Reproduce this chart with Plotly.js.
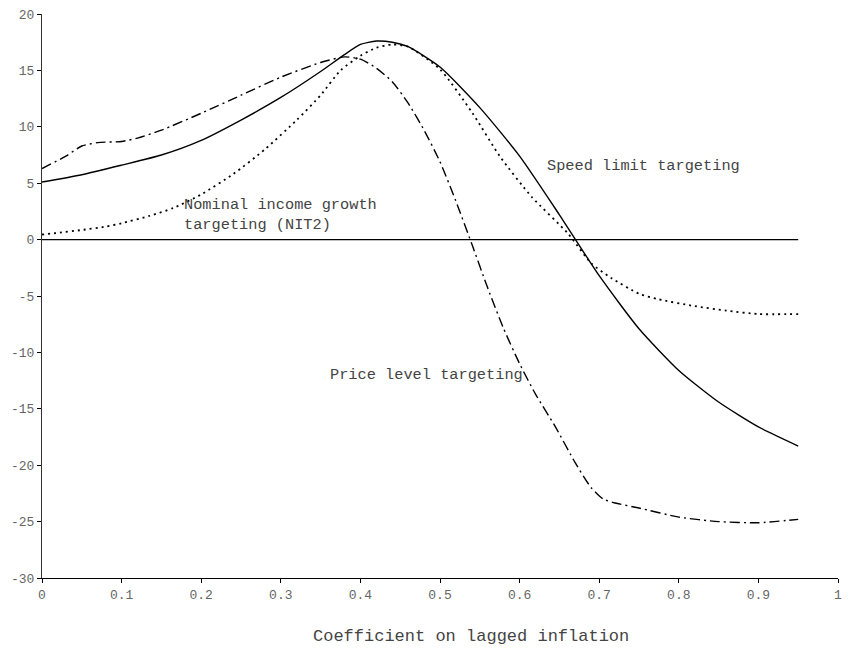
<!DOCTYPE html>
<html>
<head>
<meta charset="utf-8">
<script src="https://cdn.plot.ly/plotly-3.0.1.min.js"></script>
<style>html,body{margin:0;padding:0;background:#fff;}#chart{width:849px;height:655px;}</style>
</head>
<body>
<div id="chart"></div>
<script>
// Speed limit targeting (solid)
var speedX = [0, 0.05, 0.1, 0.15, 0.2, 0.25, 0.3, 0.35, 0.38, 0.4, 0.42, 0.44, 0.46, 0.5, 0.55, 0.6, 0.65, 0.7, 0.75, 0.8, 0.85, 0.9, 0.95];
var speedY = [5.1, 5.75, 6.6, 7.5, 8.8, 10.6, 12.6, 14.9, 16.4, 17.3, 17.6, 17.5, 17.1, 15.3, 11.7, 7.4, 2.2, -3.2, -7.9, -11.6, -14.4, -16.6, -18.3];

// Price level targeting (dash-dot)
var priceX = [0, 0.03, 0.05, 0.07, 0.1, 0.12, 0.15, 0.2, 0.25, 0.3, 0.35, 0.38, 0.4, 0.42, 0.44, 0.46, 0.48, 0.5, 0.52, 0.54, 0.56, 0.58, 0.6, 0.62, 0.645, 0.67, 0.69, 0.705, 0.72, 0.75, 0.8, 0.85, 0.9, 0.95];
var priceY = [6.3, 7.4, 8.3, 8.6, 8.7, 9.0, 9.7, 11.2, 12.8, 14.4, 15.7, 16.2, 16.0, 15.2, 14.0, 12.1, 9.7, 6.9, 3.4, -0.4, -4.3, -7.9, -11.0, -13.7, -16.6, -19.8, -22.0, -23.0, -23.35, -23.8, -24.6, -25.0, -25.1, -24.8];

// Nominal income growth targeting (NIT2) (dotted)
var nitX = [0, 0.02, 0.05, 0.08, 0.1, 0.135, 0.165, 0.2, 0.24, 0.28, 0.32, 0.35, 0.375, 0.4, 0.42, 0.44, 0.46, 0.5, 0.54, 0.575, 0.615, 0.66, 0.69, 0.715, 0.75, 0.775, 0.82, 0.86, 0.9, 0.95];
var nitY = [0.45, 0.6, 0.85, 1.15, 1.45, 2.1, 2.8, 4.0, 5.8, 8.0, 10.6, 12.8, 15.0, 16.3, 17.0, 17.3, 17.1, 15.1, 11.3, 7.4, 3.8, 0.6, -2.1, -3.4, -4.8, -5.3, -5.9, -6.3, -6.6, -6.6];

// Zero reference line
var zeroX = [0, 0.95];
var zeroY = [0, 0];

// Tick labels
var xTickVals = [0, 0.1, 0.2, 0.3, 0.4, 0.5, 0.6, 0.7, 0.8, 0.9, 1];
var xTickText = ["0", "0.1", "0.2", "0.3", "0.4", "0.5", "0.6", "0.7", "0.8", "0.9", "1"];
var yTickVals = [-30, -25, -20, -15, -10, -5, 0, 5, 10, 15, 20];
var yTickText = ["-30", "-25", "-20", "-15", "-10", "-5", "0", "5", "10", "15", "20"];

// Labels
var labelSpeed = "Speed limit targeting";
var labelNit = "Nominal income growth<br>targeting (NIT2)";
var labelPrice = "Price level targeting";
var xTitle = "Coefficient on lagged inflation";

var mono = '"Liberation Mono", "DejaVu Sans Mono", monospace';

var traces = [
  {x: zeroX, y: zeroY, mode: 'lines', line: {color: '#000', width: 1.3}, hoverinfo: 'skip'},
  {x: nitX, y: nitY, mode: 'lines', line: {color: '#000', width: 1.8, dash: '2px,4px', shape: 'spline', smoothing: 0.6}},
  {x: priceX, y: priceY, mode: 'lines', line: {color: '#000', width: 1.4, dash: '10px,4px,2px,4px', shape: 'spline', smoothing: 0.6}},
  {x: speedX, y: speedY, mode: 'lines', line: {color: '#000', width: 1.4, shape: 'spline', smoothing: 0.6}}
];

var layout = {
  width: 849,
  height: 655,
  margin: {l: 42, r: 11, t: 14, b: 77},
  paper_bgcolor: '#fff',
  plot_bgcolor: '#fff',
  showlegend: false,
  font: {family: mono, color: '#444'},
  xaxis: {
    range: [0, 1],
    tickvals: xTickVals,
    ticktext: xTickText,
    ticks: 'outside',
    ticklen: 4,
    tickcolor: '#000',
    showline: true,
    linecolor: '#000',
    linewidth: 1,
    showgrid: false,
    zeroline: false,
    tickfont: {family: mono, size: 13, color: '#666'}
  },
  yaxis: {
    range: [-30, 20],
    tickvals: yTickVals,
    ticktext: yTickText,
    ticks: 'outside',
    ticklen: 4,
    tickcolor: '#000',
    showline: true,
    linecolor: '#333',
    linewidth: 1,
    showgrid: false,
    zeroline: false,
    tickfont: {family: mono, size: 13, color: '#666'}
  },
  annotations: [
    {x: 0.632, y: 6.5, xref: 'x', yref: 'y', text: labelSpeed, showarrow: false, xanchor: 'left', yanchor: 'middle', align: 'left', font: {family: mono, size: 15.3, color: '#444'}},
    {x: 0.176, y: 2.2, xref: 'x', yref: 'y', text: labelNit, showarrow: false, xanchor: 'left', yanchor: 'middle', align: 'left', font: {family: mono, size: 15.3, color: '#444'}},
    {x: 0.359, y: -12.0, xref: 'x', yref: 'y', text: labelPrice, showarrow: false, xanchor: 'left', yanchor: 'middle', align: 'left', font: {family: mono, size: 15.3, color: '#444'}},
    {x: 0.539, y: -0.103, xref: 'paper', yref: 'paper', text: xTitle, showarrow: false, xanchor: 'center', yanchor: 'middle', font: {family: mono, size: 17, color: '#444'}}
  ]
};

Plotly.newPlot('chart', traces, layout, {staticPlot: true, displayModeBar: false});
</script>
</body>
</html>
